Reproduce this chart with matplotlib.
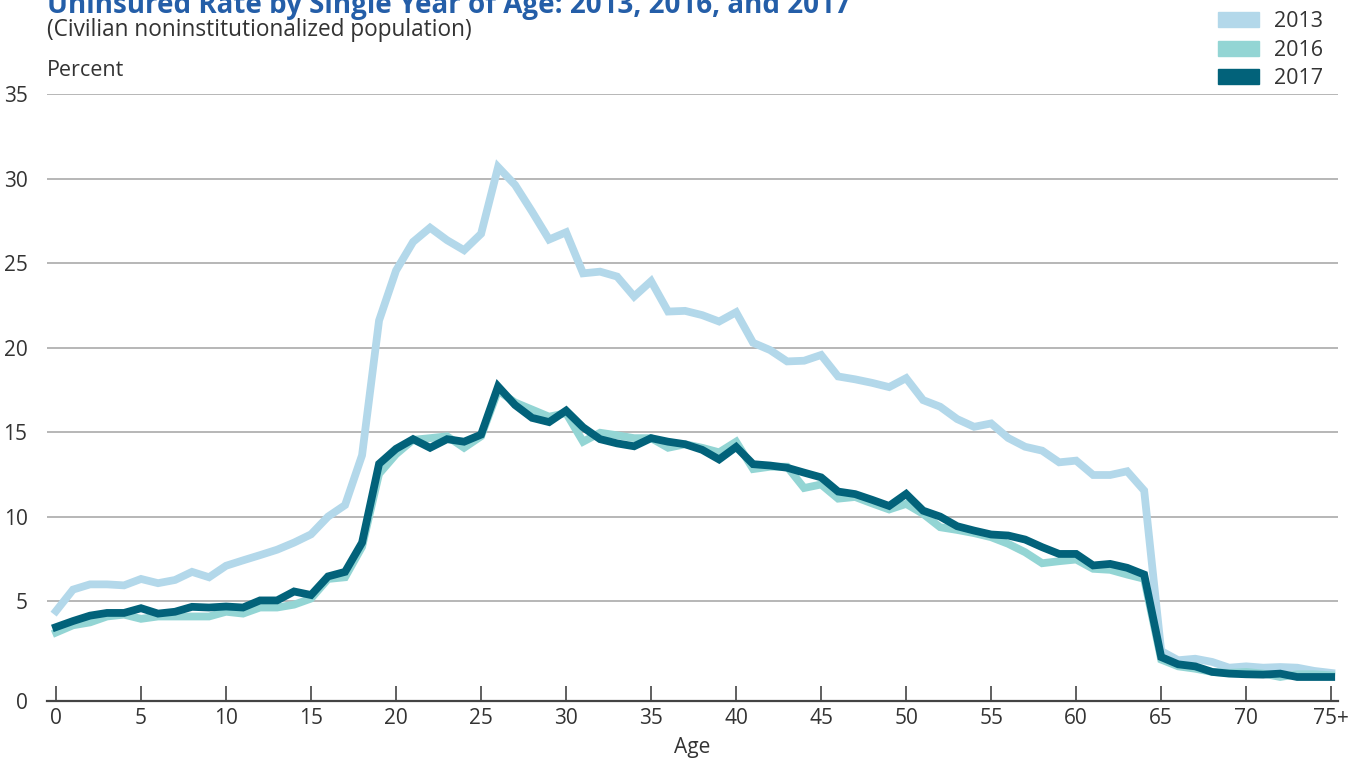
import matplotlib
matplotlib.use("Agg")
import matplotlib.pyplot as plt
from matplotlib.patches import Patch

# uninsured rate (percent) by single year of age
ages = list(range(0, 76))
age_ticks = list(range(0, 80, 5))
age_labels = [str(a) for a in age_ticks[:-1]] + ["75+"]

rate_2013 = [4.43, 5.70, 6.01, 6.01, 5.95, 6.33, 6.08, 6.27, 6.75, 6.43,
             7.11, 7.43, 7.74, 8.06, 8.48, 8.97, 10.02, 10.70, 13.65, 21.62,
             24.58, 26.27, 27.11, 26.37, 25.78, 26.75, 30.70, 29.64, 28.06, 26.41,
             26.84, 24.41, 24.51, 24.22, 23.04, 23.95, 22.15, 22.19, 21.94, 21.56,
             22.11, 20.30, 19.87, 19.20, 19.24, 19.58, 18.31, 18.14, 17.93, 17.68,
             18.21, 16.91, 16.52, 15.79, 15.33, 15.53, 14.67, 14.15, 13.92, 13.23,
             13.33, 12.48, 12.48, 12.70, 11.56, 2.07, 1.52, 1.61, 1.42, 1.08,
             1.16, 1.08, 1.12, 1.08, 0.89, 0.77]

rate_2016 = [3.16, 3.59, 3.76, 4.11, 4.22, 3.97, 4.11, 4.11, 4.11, 4.11,
             4.39, 4.28, 4.64, 4.64, 4.81, 5.17, 6.33, 6.43, 8.23, 12.55,
             13.71, 14.56, 14.66, 14.77, 14.09, 14.77, 17.47, 16.77, 16.35, 15.93,
             16.14, 14.45, 14.98, 14.83, 14.66, 14.66, 14.09, 14.30, 14.09, 13.82,
             14.45, 12.83, 12.97, 12.97, 11.71, 11.92, 11.08, 11.18, 10.80, 10.44,
             10.77, 10.18, 9.39, 9.23, 9.04, 8.80, 8.41, 7.91, 7.26, 7.38,
             7.48, 6.93, 6.87, 6.59, 6.34, 1.56, 1.16, 1.02, 0.83, 0.77,
             0.83, 0.73, 0.53, 0.69, 0.69, 0.63]

rate_2017 = [3.48, 3.84, 4.16, 4.32, 4.32, 4.60, 4.28, 4.39, 4.68, 4.64,
             4.70, 4.64, 5.06, 5.06, 5.59, 5.38, 6.48, 6.75, 8.48, 13.14,
             14.03, 14.60, 14.09, 14.60, 14.45, 14.87, 17.72, 16.62, 15.86, 15.61,
             16.29, 15.30, 14.60, 14.35, 14.18, 14.66, 14.45, 14.30, 13.97, 13.40,
             14.14, 13.12, 13.04, 12.91, 12.62, 12.34, 11.50, 11.35, 11.01, 10.65,
             11.36, 10.37, 10.02, 9.45, 9.19, 8.96, 8.90, 8.66, 8.21, 7.81,
             7.81, 7.13, 7.22, 6.99, 6.59, 1.71, 1.28, 1.16, 0.83, 0.73,
             0.69, 0.67, 0.73, 0.53, 0.53, 0.53]

years = ["2013", "2016", "2017"]
colors = ["#b3d8ea", "#93d5d4", "#02627a"]

plt.rcParams["font.family"] = ["Open Sans", "DejaVu Sans"]
txt = "#333333"

fig = plt.figure(figsize=(13.59, 7.61), dpi=100)
ax = fig.add_axes([47 / 1359, 1 - 701 / 761, (1338 - 47) / 1359, (701 - 94) / 761])

for vals, c in zip([rate_2013, rate_2016, rate_2017], colors):
    ax.plot(ages, vals, color=c, lw=5.6, solid_joinstyle="miter", zorder=3)

ybot = -0.89
ax.set_ylim(ybot, 35.02)
ax.set_xlim(-0.53, 75.4)
ax.set_yticks([ybot] + list(range(5, 40, 5)))
ax.set_yticklabels(["0"] + [str(v) for v in range(5, 40, 5)])
ax.set_xticks(age_ticks)
ax.set_xticklabels(age_labels)

ax.grid(axis="y", color="#aaaaaa", lw=1.2, zorder=1)
for s in ["top", "right", "left"]:
    ax.spines[s].set_visible(False)
ax.spines["bottom"].set_color("#444444")
ax.spines["bottom"].set_linewidth(1.6)
ax.tick_params(axis="y", length=0, pad=14, labelsize=15, labelcolor=txt)
ax.tick_params(axis="x", direction="in", length=11, width=1.2, color="#444444",
               pad=5, labelsize=15, labelcolor=txt)
ax.set_xlabel("Age", fontsize=15, color=txt, labelpad=6)

fig.text(47 / 1359, 1 - 6 / 761, "Uninsured Rate by Single Year of Age: 2013, 2016, and 2017",
         fontsize=20, fontweight="bold", color="#245ea8", va="center", ha="left")
fig.text(47 / 1359, 1 - 30 / 761, "(Civilian noninstitutionalized population)",
         fontsize=16.3, color=txt, va="center", ha="left")
fig.text(47 / 1359, 1 - 70 / 761, "Percent", fontsize=15.5, color=txt, va="center", ha="left")

handles = [Patch(color=c, label=y) for y, c in zip(years, colors)]
fig.legend(handles=handles, loc="upper left", bbox_to_anchor=(1205 / 1359, 1 + 2 / 761),
           frameon=False, fontsize=15.5, handlelength=1.9, handleheight=0.7,
           labelspacing=0.36, handletextpad=0.7, labelcolor=txt, borderaxespad=0.2)

fig.savefig("out.png", dpi=100)
